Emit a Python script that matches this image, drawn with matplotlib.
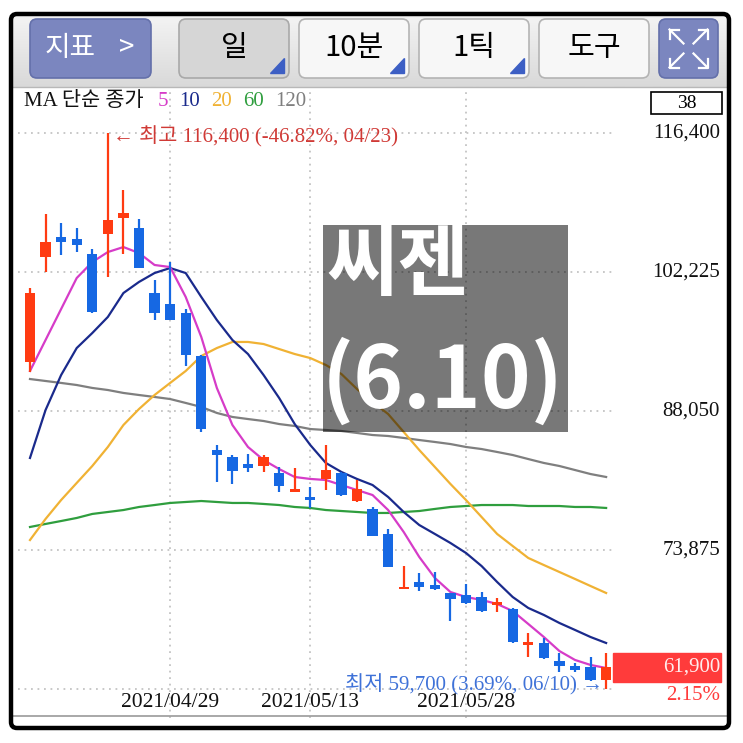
import matplotlib.pyplot as plt
from matplotlib.patches import FancyBboxPatch, Rectangle, Polygon
from matplotlib.transforms import blended_transform_factory
import numpy as np

plt.rcParams['font.family'] = ['Liberation Serif', 'Noto Sans CJK KR', 'DejaVu Sans']

# daily candles, 2021/04/16 .. 2021/06/10 (38 sessions)
dates = ['04/16', '04/19', '04/20', '04/21', '04/22', '04/23', '04/26', '04/27', '04/28', '04/29',
         '04/30', '05/03', '05/04', '05/06', '05/07', '05/10', '05/11', '05/12', '05/13', '05/14',
         '05/17', '05/18', '05/20', '05/21', '05/24', '05/25', '05/26', '05/27', '05/28', '05/31',
         '06/01', '06/02', '06/03', '06/04', '06/07', '06/08', '06/09', '06/10']
opens = [93000, 103800, 105800, 105600, 104100, 106100, 107700, 106700, 100100, 99000,
         98000, 93700, 84100, 83400, 82600, 82400, 81700, 79800, 79300, 81100,
         81700, 78900, 78100, 75500, 70000, 70600, 70300, 69500, 69300, 69100,
         68400, 67900, 64300, 64400, 62600, 62000, 61900, 60600]
highs = [100600, 108100, 107200, 106700, 104600, 116400, 110600, 107600, 101400, 103200,
         98500, 93800, 84600, 83600, 83700, 83600, 82300, 82200, 80300, 84600,
         81800, 81000, 78300, 76000, 72200, 71500, 71600, 69500, 70400, 69600,
         69000, 68000, 65400, 64900, 63400, 62400, 63000, 63400]
lows = [92000, 102200, 104000, 104300, 98000, 101700, 104100, 102600, 97300, 97300,
        92600, 85900, 80800, 80600, 81800, 81800, 79800, 79800, 78200, 80000,
        79400, 78800, 75300, 72100, 69900, 69700, 69800, 66600, 68400, 67500,
        67500, 64400, 63000, 62800, 61400, 61400, 60500, 59700]
closes = [100100, 105300, 105300, 105000, 98100, 107500, 108200, 102600, 98000, 97300,
          93800, 86200, 83600, 81900, 82200, 83400, 80400, 80100, 79100, 82000,
          79500, 80100, 75300, 72100, 70100, 70100, 69900, 68900, 68500, 67700,
          68500, 64500, 64500, 62900, 62000, 61600, 60600, 61900]

ma5 = [92130, 95290, 98450, 101610, 103240, 104260, 104770, 104160, 102940, 102730,
       99680, 95600, 90400, 86620, 84380, 83050, 82130, 81320, 81120, 81010,
       80500, 79990, 79480, 77950, 75710, 73160, 71020, 69590, 69080, 68780,
       68370, 67650, 66330, 65000, 63570, 62660, 62150, 61840]
ma10 = [83260, 88150, 91720, 94470, 96000, 97640, 100080, 101210, 102120, 102630,
        102120, 99680, 97330, 95290, 93860, 91720, 89380, 86720, 84580, 82750,
        81830, 81120, 80500, 79280, 77750, 76420, 75510, 74590, 73570, 72240,
        70610, 69080, 67960, 67250, 66430, 65720, 65000, 64390]
ma20 = [74890, 77040, 78970, 80710, 82440, 84380, 86620, 88250, 89680, 90910,
        92130, 93660, 94470, 95090, 95090, 94880, 94370, 93860, 93450, 92740,
        91820, 90290, 88970, 87740, 85910, 84070, 82340, 80610, 78970, 77240,
        75510, 74280, 73060, 72340, 71630, 70920, 70200, 69490]
ma60 = [76220, 76530, 76830, 77140, 77550, 77750, 77950, 78260, 78460, 78670,
        78770, 78870, 78770, 78670, 78670, 78570, 78460, 78260, 78160, 77950,
        77850, 77750, 77650, 77650, 77750, 77850, 78060, 78260, 78360, 78460,
        78460, 78460, 78360, 78360, 78360, 78260, 78260, 78160]
ma120 = [91310, 91110, 90910, 90700, 90400, 90190, 89890, 89680, 89480, 89270,
         88870, 88460, 87850, 87440, 87230, 87030, 86720, 86520, 86210, 86110,
         86010, 85810, 85600, 85500, 85300, 85090, 84890, 84680, 84380, 84170,
         83870, 83560, 83150, 82750, 82440, 82030, 81620, 81320]

price_ticks = [116400, 102225, 88050, 73875, 59700]
date_ticks = {9: '2021/04/29', 18: '2021/05/13', 28: '2021/05/28'}
hi_idx, lo_idx = 5, 37
last, change = 61900, 2.15

UP, DOWN = '#ff3b12', '#1668e3'
ma_colors = {'5': '#d63cc8', '10': '#1a2a8c', '20': '#f0b234', '60': '#2f9e3e', '120': '#7f7f7f'}

W = 743
fig = plt.figure(figsize=(7.43, 7.43), dpi=100)
fig.patch.set_facecolor('white')

# ---- price chart
px = lambda v: v / W
ax = fig.add_axes([px(18), 1 - px(718), px(615 - 18), px(718 - 88)])
ax.set_xlim(-0.77, 37.57)
ax.set_ylim(56740, 120990)
for s in ax.spines.values():
    s.set_visible(False)
ax.set_xticks(list(date_ticks.keys()))
ax.set_yticks(price_ticks)
ax.tick_params(length=0, labelbottom=False, labelleft=False)
ax.grid(True, color='#c4c4c4', linestyle=(0, (1, 2.6)), linewidth=1.3)
ax.set_axisbelow(True)

x = np.arange(len(closes))
for vals, key in [(ma120, '120'), (ma60, '60'), (ma20, '20'), (ma10, '10'), (ma5, '5')]:
    ax.plot(x, vals, color=ma_colors[key], lw=1.6, zorder=2)

o, c = np.array(opens), np.array(closes)
cols = [UP if cc >= oo else DOWN for oo, cc in zip(o, c)]
ax.vlines(x, lows, highs, colors=cols, lw=1.6, zorder=3)
bottom = np.minimum(o, c)
height = np.maximum(np.abs(c - o), 280)
ax.bar(x, height, bottom=bottom - np.where(np.abs(c - o) < 280, 140, 0), width=0.66,
       color=cols, zorder=4)

bt = blended_transform_factory(ax.transAxes, ax.transData)
xt = blended_transform_factory(ax.transData, ax.transAxes)
for p in price_ticks[:4]:
    ax.text(1.176, p, f'{p:,}', transform=bt, ha='right', va='center', fontsize=15,
            color='#111111', clip_on=False)
for i, lab in date_ticks.items():
    ax.text(i, 0.024, lab, transform=xt, ha='center', va='center', fontsize=15.5, color='#111111')

# current price tag
ax.add_patch(Rectangle((0.997, last - 1500), 0.18, 3000, transform=bt, color='#ff3b3b',
                       clip_on=False, zorder=5))
ax.text(1.176, last, f'{last:,}', transform=bt, ha='right', va='center', fontsize=15,
        color='#ffecec', clip_on=False, zorder=6)
ax.text(1.176, last - 2850, f'{change:.2f}%', transform=bt, ha='right', va='center',
        fontsize=15, color='#ff3b3b', clip_on=False)

hi, lo = highs[hi_idx], lows[lo_idx]
ax.text(hi_idx + 0.3, hi - 350, f'← 최고 {hi:,} ({(last / hi - 1) * 100:.2f}%, {dates[hi_idx]})',
        ha='left', va='center', fontsize=15, color='#d03a36', zorder=6)
ax.text(lo_idx - 0.2, lo + 450, f'최저 {lo:,} ({(last / lo - 1) * 100:.2f}%, {dates[lo_idx]}) →',
        ha='right', va='center', fontsize=15, color='#3f72d8', zorder=6)

# ---- screen chrome, pixel coordinates
ui = fig.add_axes([0, 0, 1, 1])
ui.set_xlim(0, W)
ui.set_ylim(W, 0)
ui.axis('off')

grad = np.linspace(0, 1, 64).reshape(-1, 1)
ui.imshow(grad, extent=[11, 729, 87, 14], cmap=plt.matplotlib.colors.LinearSegmentedColormap.from_list(
    'bar', ['#f4f4f4', '#d9d9d9']), aspect='auto', zorder=1)
ui.plot([11, 729], [87, 87], color='#b8b8b8', lw=1, zorder=2)


def button(x0, x1, face, edge, label=None, color='black', size=21, tri=False):
    ui.add_patch(FancyBboxPatch((x0, 19), x1 - x0, 59, boxstyle='round,pad=0,rounding_size=7',
                                facecolor=face, edgecolor=edge, lw=1.2, zorder=3))
    if label:
        ui.text((x0 + x1) / 2, 48, label, ha='center', va='center', fontsize=size, color=color,
                family=['Noto Sans CJK KR', 'DejaVu Sans'], zorder=4)
    if tri:
        ui.add_patch(Polygon([[x1 - 19, 73], [x1 - 5, 73], [x1 - 5, 58]], color='#3d5fc4', zorder=4))


button(30, 151, '#7b86bf', '#6470aa')
ui.text(70, 48, '지표', ha='center', va='center', fontsize=20, color='white',
        family=['Noto Sans CJK KR'], zorder=4)
ui.text(127, 47, '>', ha='center', va='center', fontsize=20, color='white',
        family=['Noto Sans CJK KR'], zorder=4)
button(179, 289, '#d6d6d6', '#a9a9a9', '일', tri=True)
button(299, 409, '#f7f7f7', '#b4b4b4', '10분', tri=True)
button(419, 529, '#f7f7f7', '#b4b4b4', '1틱', tri=True)
button(539, 649, '#f7f7f7', '#b4b4b4', '도구')
button(659, 718, '#7b86bf', '#6470aa')
for sx, sy in [(-1, -1), (1, -1), (-1, 1), (1, 1)]:
    cx, cy = 688.5, 48.5
    ex, ey = cx + 19 * sx, cy + 19 * sy
    ui.plot([cx + 5 * sx, ex], [cy + 5 * sy, ey], color='white', lw=1.6, zorder=5)
    ui.plot([ex - 9 * sx, ex, ex], [ey, ey, ey - 9 * sy], color='white', lw=1.6, zorder=5)

# legend row
ui.text(24, 102, 'MA 단순 종가', ha='left', va='center', fontsize=15, color='#111111', zorder=4)
lx = 158
for key, col in ma_colors.items():
    ui.text(lx, 102, key, ha='left', va='center', fontsize=15, color=col, zorder=4)
    lx += 10.4 * len(key) + 11
ui.add_patch(Rectangle((651, 92), 71, 22, facecolor='white', edgecolor='black', lw=1.2, zorder=4))
ui.text(686.5, 103, str(len(closes)), ha='center', va='center', fontsize=14, zorder=5)

# title overlay
ui.add_patch(Rectangle((323, 225), 245, 207, facecolor='black', alpha=0.53, lw=0, zorder=6))
ui.text(326, 266, '씨젠', ha='left', va='center', fontsize=56, color='white', weight='bold',
        family=['Noto Sans CJK KR'], zorder=7)
ui.text(322, 382, '(6.10)', ha='left', va='center', fontsize=61, color='white', weight='bold',
        family=['Noto Sans CJK KR'], zorder=7)

# bottom separator and frame
ui.plot([11, 729], [716, 716], color='#9a9a9a', lw=1.2, zorder=3)
ui.add_patch(FancyBboxPatch((11, 14), 718, 714, boxstyle='round,pad=0,rounding_size=6',
                            facecolor='none', edgecolor='black', lw=3.2, zorder=8))

fig.savefig('out.png', dpi=100)
